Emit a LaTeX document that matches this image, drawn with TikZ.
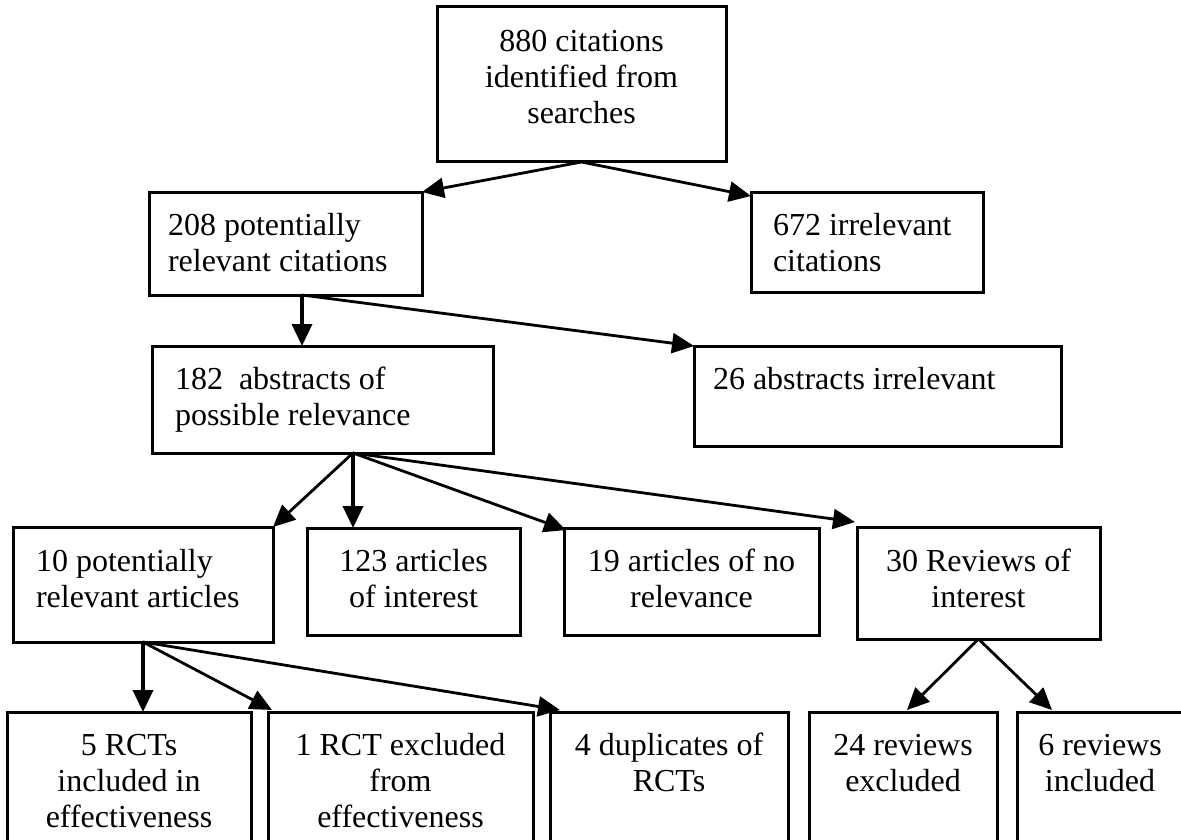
\documentclass[tikz,border=0pt]{standalone}
\usepackage{fontspec}
\setmainfont{Liberation Serif}
\usetikzlibrary{arrows.meta,calc}
\begin{document}
\begin{tikzpicture}[x=1pt,y=-1pt,
  box/.style={draw=black,line width=3pt,rectangle,inner sep=0pt,outer sep=0pt},
  txt/.style={inner sep=0pt,outer sep=0pt,font=\fontsize{32}{36}\selectfont},
  arr/.style={line width=2.8pt,-{Triangle[length=22pt,width=20pt]}},
  varr/.style={line width=3.6pt,-{Triangle[length=22pt,width=20pt]}}]
\fill[white] (0,0) rectangle (1181,840);
\clip (0,0) rectangle (1181,840);
% boxes
\node[box,minimum width=289pt,minimum height=155pt] (b1) at (581.5,84.5) {};
\node[box,minimum width=273pt,minimum height=103pt] (b2) at (285.5,243.5) {};
\node[box,minimum width=232pt,minimum height=100pt] (b3) at (867,242) {};
\node[box,minimum width=341pt,minimum height=107pt] (b4) at (322.5,399.5) {};
\node[box,minimum width=367pt,minimum height=100pt] (b5) at (877.5,396) {};
\node[box,minimum width=260pt,minimum height=115pt] (b6) at (143,584.5) {};
\node[box,minimum width=213pt,minimum height=107pt] (b7) at (413.5,581.5) {};
\node[box,minimum width=255pt,minimum height=107pt] (b8) at (691.5,581.5) {};
\node[box,minimum width=243pt,minimum height=112pt] (b9) at (978.5,583) {};
\node[box,minimum width=244pt,minimum height=130pt] (b10) at (129,777) {};
\node[box,minimum width=265pt,minimum height=130pt] (b11) at (400.5,777) {};
\node[box,minimum width=238pt,minimum height=130pt] (b12) at (669,777) {};
\node[box,minimum width=188pt,minimum height=130pt] (b13) at (903,777) {};
\node[box,minimum width=167pt,minimum height=130pt] (b14) at (1100.5,777) {};
% texts (anchor = baseline of last line)
\node[txt,anchor=base,align=center] (t1) at (581.5,124) {880 citations\\identified from\\searches};
\node[txt,anchor=base west,align=left] (t2) at (168,271) {208 potentially\\relevant citations};
\node[txt,anchor=base west,align=left] (t3) at (773,271) {672 irrelevant\\citations};
\node[txt,anchor=base west,align=left] (t4) at (175,425) {182~ abstracts of\\possible relevance};
\node[txt,anchor=base west,align=left] (t5) at (713,389) {26 abstracts irrelevant};
\node[txt,anchor=base west,align=left] (t6) at (36,607) {10 potentially\\relevant articles};
\node[txt,anchor=base,align=center] (t7) at (413.5,607) {123 articles\\of interest};
\node[txt,anchor=base,align=center] (t8) at (691.5,607) {19 articles of no\\relevance};
\node[txt,anchor=base,align=center] (t9) at (978.5,607) {30 Reviews of\\interest};
\node[txt,anchor=base,align=center] (t10) at (129,827) {5 RCTs\\included in\\effectiveness};
\node[txt,anchor=base,align=center] (t11) at (400.5,827) {1 RCT excluded\\from\\effectiveness};
\node[txt,anchor=base,align=center] (t12) at (669,791) {4 duplicates of\\RCTs};
\node[txt,anchor=base,align=center] (t13) at (903,791) {24 reviews\\excluded};
\node[txt,anchor=base,align=center] (t14) at (1100,791) {6 reviews\\included};
% branch points
\coordinate (s2) at (302,295);
\coordinate (s4) at (353,453);
% arrows
\draw[arr] (b1.south) -- (b2.north east);
\draw[arr] (b1.south) -- ($(b3.north west)+(0,4)$);
\draw[varr] (s2) -- (s2 |- b4.north);
\draw[arr] (s2) -- (b5.north west);
\draw[arr] (s4) -- (b6.north east);
\draw[varr] (s4) -- (s4 |- b7.north);
\draw[arr] (s4) -- ($(b8.north west)+(2,2)$);
\draw[arr] (s4) -- ($(b9.north west)+(-2,-5)$);
\draw[varr] (b6.south) -- (b6.south |- b10.north);
\draw[arr] (b6.south) -- ($(b11.north west)+(4,-2)$);
\draw[arr] (b6.south) -- ($(b12.north west)+(10,-2)$);
\draw[arr] (b9.south) -- ($(b13.north)+(4,-2)$);
\draw[arr] (b9.south) -- ($(b14.north west)+(35,-2)$);
\end{tikzpicture}
\end{document}
